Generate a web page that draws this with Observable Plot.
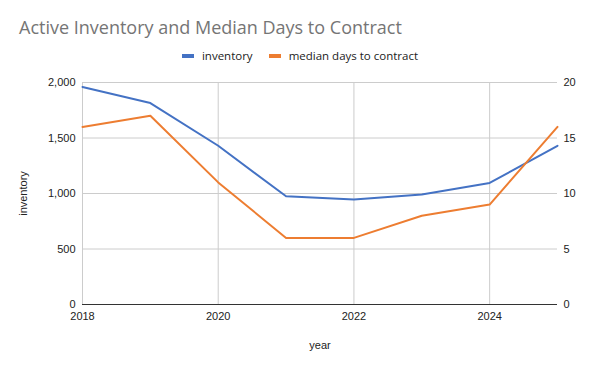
<!DOCTYPE html>
<html>
<head>
<meta charset="utf-8">
<script src="https://cdn.jsdelivr.net/npm/d3@7"></script>
<script src="https://cdn.jsdelivr.net/npm/@observablehq/plot@0.6"></script>
<style>
  html, body { margin: 0; padding: 0; background: #fff; }
  #wrap { width: 600px; height: 371px; overflow: hidden; position: relative; }
  #header { position: relative; width: 600px; height: 70px; }
  #title { position: absolute; left: 19px; top: 18px; font: 18px/18px "Open Sans", sans-serif; color: #757575; white-space: nowrap; }
  #legend { position: absolute; left: 0; width: 600px; top: 48px; height: 16px; display: flex; justify-content: center; align-items: center; font: 11.5px/16px "Open Sans", sans-serif; color: #222; }
  .sw { display: inline-block; width: 12px; height: 4px; margin-right: 8px; }
  .item { display: flex; align-items: center; }
  .item + .item { margin-left: 16px; }
  #chart svg { display: block; }
</style>
</head>
<body>
<div id="wrap">
  <div id="header">
    <div id="title"></div>
    <div id="legend"></div>
  </div>
  <div id="chart"></div>
</div>
<script>
const chartTitle = "Active Inventory and Median Days to Contract";
const seriesNames = ["inventory", "median days to contract"];
const seriesColors = ["#4472C4", "#ED7D31"];
const years = [2018, 2019, 2020, 2021, 2022, 2023, 2024, 2025];
const inventory = [1960, 1815, 1430, 975, 945, 990, 1095, 1430];
const daysToContract = [16, 17, 11, 6, 6, 8, 9, 16];
const xTicks = [2018, 2020, 2022, 2024];
const leftTicks = [0, 500, 1000, 1500, 2000];
const rightTicks = [0, 5, 10, 15, 20];
const ratio = 100; // right axis (days) mapped onto left axis scale

document.getElementById("title").textContent = chartTitle;
const legend = document.getElementById("legend");
seriesNames.forEach((name, i) => {
  const item = document.createElement("span");
  item.className = "item";
  const sw = document.createElement("span");
  sw.className = "sw";
  sw.style.background = seriesColors[i];
  const lab = document.createElement("span");
  lab.textContent = name;
  item.appendChild(sw);
  item.appendChild(lab);
  legend.appendChild(item);
});

const invData = years.map((year, i) => ({year, value: inventory[i]}));
const dayData = years.map((year, i) => ({year, value: daysToContract[i] * ratio}));

const chart = Plot.plot({
  width: 600,
  height: 301,
  marginTop: 12,
  marginBottom: 67,
  marginLeft: 82,
  marginRight: 43,
  style: {fontFamily: "'Liberation Sans', Arial, sans-serif", fontSize: "11px", color: "#222", background: "#fff"},
  x: {domain: [2018, 2025]},
  y: {domain: [0, 2000]},
  marks: [
    Plot.gridX(xTicks, {stroke: "#cccccc", strokeOpacity: 1}),
    Plot.gridY(leftTicks, {stroke: "#cccccc", strokeOpacity: 1}),
    Plot.ruleY([0], {stroke: "#333"}),
    Plot.axisX(xTicks, {tickSize: 0, tickPadding: 8, tickFormat: d => String(d), label: "year", labelAnchor: "center", labelOffset: 44, labelArrow: "none"}),
    Plot.axisY(leftTicks, {anchor: "left", tickSize: 0, tickPadding: 7, tickFormat: d3.format(","), label: "inventory", labelAnchor: "center", labelOffset: 63, labelArrow: "none"}),
    Plot.axisY(rightTicks.map(d => d * ratio), {anchor: "right", tickSize: 0, tickPadding: 6, tickFormat: d => String(d / ratio), label: null}),
    Plot.line(invData, {x: "year", y: "value", stroke: seriesColors[0], strokeWidth: 2}),
    Plot.line(dayData, {x: "year", y: "value", stroke: seriesColors[1], strokeWidth: 2})
  ]
});
document.getElementById("chart").appendChild(chart);
</script>
</body>
</html>
